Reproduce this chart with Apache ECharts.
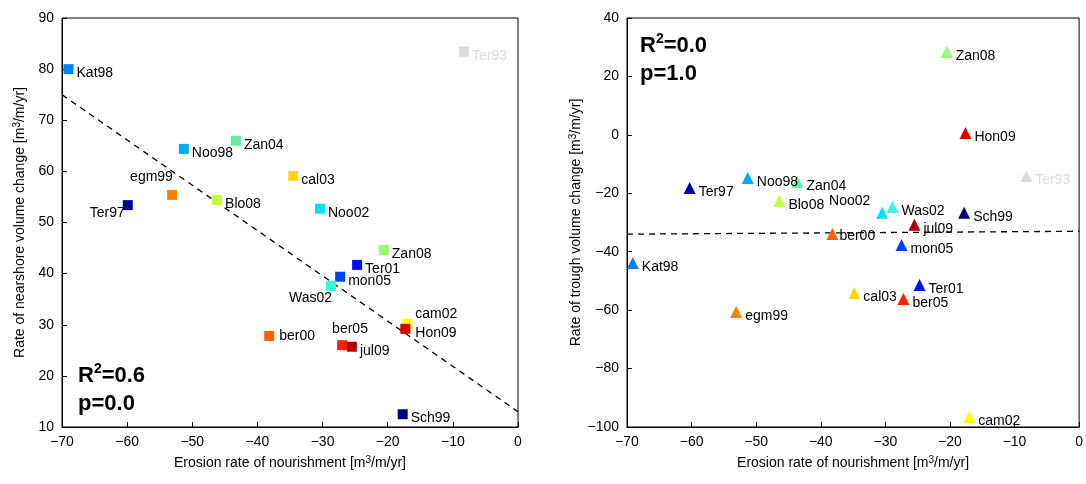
<!DOCTYPE html>
<html><head><meta charset="utf-8">
<script src="https://cdn.jsdelivr.net/npm/echarts@6/dist/echarts.min.js"></script>
<style>body{margin:0;background:#fff}#c{width:1086px;height:484px}</style>
</head><body><div id="c"></div>
<script>
var names = ['Kat98','Noo98','Zan04','egm99','Ter97','Blo08','cal03','Noo02','Zan08','Ter01','mon05','Was02','cam02','Hon09','ber00','ber05','jul09','Sch99','Ter93'];
var colors = ['#0080ff','#00a8ff','#60f0a0','#ff8000','#0000a0','#c0ff40','#ffd800','#00e0ff','#90ff70','#0010ff','#0040ff','#30ffe0','#ffff00','#e00000','#ff6000','#ff2000','#b00000','#000080','#dcdcdc'];
var erosionL = [-69,-51.3,-43.3,-53.1,-59.9,-46.2,-34.5,-30.4,-20.6,-24.7,-27.3,-28.7,-17,-17.3,-38.2,-27,-25.5,-17.7,-8.3];
var nearshore = [80,64.4,66,55.4,53.4,54.4,59.1,52.7,44.6,41.7,39.4,37.6,30.2,29.2,27.8,26,25.7,12.5,83.4];
var erosionR = [-69.1,-51.3,-43.6,-53.1,-60.3,-46.4,-34.8,-30.5,-20.5,-24.7,-27.5,-28.9,-17,-17.6,-38.2,-27.2,-25.5,-17.8,-8.2];
var trough = [-43.9,-14.8,-16.1,-60.6,-18.2,-22.6,-54.1,-26.7,28.4,-51.4,-37.7,-24.7,-96.6,0.6,-33.9,-56.2,-30.8,-26.7,-14.1];
var fitL = [[-70,75],[0,13]];
var fitR = [[-70,-34],[0,-33]];

// label offsets [dx, dy] per name (style only)
var offL = {egm99:[-50,-18],Ter97:[-46,8],Was02:[-50,12],ber05:[-18,-16],cam02:[0,-10],Hon09:[2,4],ber00:[2,0]};
var offR = {Noo02:[-62,-12],jul09:[0,4],ber00:[-2,2]};

function pts(xs, ys, off){
  return names.map(function(n,i){
    var o = off[n] || [0,4];
    return {value:[xs[i],ys[i]], itemStyle:{color:colors[i],opacity:1},
      label:{show:true, formatter:n, position:'right', distance:3, offset:[o[0],o[1]],
        color: n==='Ter93' ? '#dcdcdc' : '#000', fontSize:14, fontFamily:'Liberation Sans'}};
  });
}
var minus = function(v){return String(v).replace('-','\u2212');};
var axisCommon = {
  axisLine:{onZero:false,lineStyle:{color:'#000'}},
  axisTick:{inside:true,length:5,lineStyle:{color:'#000'}},
  axisLabel:{color:'#000',fontSize:14,fontFamily:'Liberation Sans',formatter:minus},
  splitLine:{show:false},
  nameTextStyle:{color:'#000',fontSize:14,fontFamily:'Liberation Sans',rich:{u:{fontSize:10,verticalAlign:'top',padding:[0,0,6,0]}}},
  nameLocation:'middle'
};
function ax(o){return Object.assign({},axisCommon,o);}
var rich = {b:{fontSize:22,fontWeight:'bold',fontFamily:'Liberation Sans',color:'#000'},
            s:{fontSize:14,fontWeight:'bold',fontFamily:'Liberation Sans',color:'#000',verticalAlign:'top',padding:[0,0,10,0]}};
var xName = 'Erosion rate of nourishment [m{u|3}/m/yr]';

var chart = echarts.init(document.getElementById('c'));
chart.setOption({
  animation:false,
  grid:[{left:62,top:18,width:456,height:409,show:true,borderColor:'#000',borderWidth:1},
        {left:627,top:18,width:456,height:409,show:true,borderColor:'#000',borderWidth:1}],
  xAxis:[ax({gridIndex:0,type:'value',min:-70,max:0,interval:10,name:xName,nameGap:28}),
         ax({gridIndex:1,type:'value',min:-70,max:0,interval:10,name:xName,nameGap:28})],
  yAxis:[ax({gridIndex:0,type:'value',min:10,max:90,interval:10,name:'Rate of nearshore volume change [m{u|3}/m/yr]',nameGap:34}),
         ax({gridIndex:1,type:'value',min:-100,max:40,interval:20,name:'Rate of trough volume change [m{u|3}/m/yr]',nameGap:42})],
  series:[
    {type:'line',xAxisIndex:0,yAxisIndex:0,data:fitL,symbol:'none',lineStyle:{color:'#000',type:[6,5],width:1.3},z:1},
    {type:'scatter',xAxisIndex:0,yAxisIndex:0,data:pts(erosionL,nearshore,offL),symbol:'rect',symbolSize:10,z:2},
    {type:'line',xAxisIndex:1,yAxisIndex:1,data:fitR,symbol:'none',lineStyle:{color:'#000',type:[6,5],width:1.3},z:1},
    {type:'scatter',xAxisIndex:1,yAxisIndex:1,data:pts(erosionR,trough,offR),symbol:'triangle',symbolSize:12,z:2}
  ],
  graphic:[
    {type:'text',left:78,top:362,style:{text:'{b|R}{s|2}{b|=0.6}\n{b|p=0.0}',rich:rich,lineHeight:28}},
    {type:'text',left:640,top:32,style:{text:'{b|R}{s|2}{b|=0.0}\n{b|p=1.0}',rich:rich,lineHeight:28}}
  ]
});
</script></body></html>
